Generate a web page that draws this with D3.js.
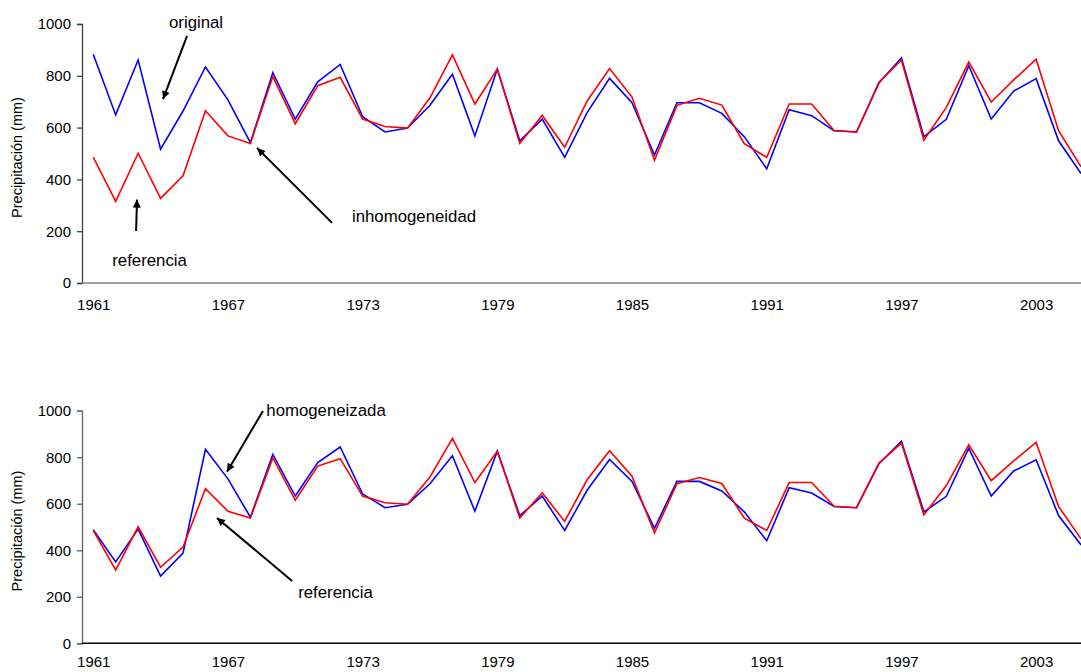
<!DOCTYPE html>
<html>
<head>
<meta charset="utf-8">
<script src="https://cdn.jsdelivr.net/npm/d3@7"></script>
<style>
  html, body { margin: 0; padding: 0; background: #ffffff; }
  svg { display: block; font-family: "Liberation Sans", Arial, sans-serif; }
</style>
</head>
<body>
<svg id="chart" width="1081" height="672"></svg>
<script>
// ---- data ----
const years = [1961,1962,1963,1964,1965,1966,1967,1968,1969,1970,1971,1972,1973,1974,1975,1976,1977,1978,1979,1980,1981,1982,1983,1984,1985,1986,1987,1988,1989,1990,1991,1992,1993,1994,1995,1996,1997,1998,1999,2000,2001,2002,2003,2004,2005];
const original = [883,649,861,517,664,834,707,542,812,633,777,844,642,583,598,686,806,568,826,549,633,485,658,790,696,494,696,696,655,565,441,669,646,588,583,772,869,565,632,839,633,741,789,549,423];
const referencia = [486,315,501,327,414,665,568,539,797,615,762,794,633,604,598,715,881,691,826,539,647,524,703,828,718,474,686,713,687,538,485,691,691,589,583,775,861,552,678,853,699,784,864,588,449];
const homogeneizada = [488,350,491,289,388,834,707,542,812,633,777,844,642,583,598,686,806,568,826,549,633,485,658,790,696,494,696,696,655,565,441,669,646,588,583,772,869,565,632,839,633,741,789,549,423];
const tickYears = [1961,1967,1973,1979,1985,1991,1997,2003];
const yTicks = [0,200,400,600,800,1000];
const yTitle = "Precipitación (mm)";

const panels = [
  { top: 24, bottom: 283, xAxisColor: "#808080", yAxisColor: "#404040", xPad: 16,
    series: [{values: original, color: "#0000ff"}, {values: referencia, color: "#ff0000"}],
    notes: [
      {text: "original", x: 1965.58, y: 985},
      {text: "referencia", x: 1963.51, y: 66},
      {text: "inhomogeneidad", x: 1975.29, y: 237}
    ],
    arrows: [
      {x1: 1965.18, y1: 954, x2: 1964.11, y2: 710},
      {x1: 1962.91, y1: 201, x2: 1962.95, y2: 322},
      {x1: 1971.64, y1: 232, x2: 1968.3, y2: 521}
    ] },
  { top: 410.7, bottom: 643.3, xAxisColor: "#000000", yAxisColor: "#606060", xPad: 13.5,
    series: [{values: homogeneizada, color: "#0000ff"}, {values: referencia, color: "#ff0000"}],
    notes: [
      {text: "homogeneizada", x: 1971.37, y: 978},
      {text: "referencia", x: 1971.79, y: 195}
    ],
    arrows: [
      {x1: 1968.56, y1: 999, x2: 1966.96, y2: 738},
      {x1: 1969.86, y1: 268, x2: 1966.51, y2: 539}
    ] }
];

const svg = d3.select("#chart");
svg.append("rect").attr("width", 1081).attr("height", 672).attr("fill", "#fff");

const defs = svg.append("defs");
defs.append("marker")
  .attr("id", "arrow")
  .attr("viewBox", "0 0 10 10")
  .attr("refX", 10).attr("refY", 5)
  .attr("markerUnits", "userSpaceOnUse")
  .attr("markerWidth", 10).attr("markerHeight", 8)
  .attr("orient", "auto")
  .append("path").attr("d", "M0,0 L10,5 L0,10 Z").attr("fill", "#000");

const axisLeftX = 82;
const x = d3.scaleLinear().domain([1960.5, 2005.5]).range([axisLeftX, axisLeftX + 45 * 22.45]);

panels.forEach(p => {
  const y = d3.scaleLinear().domain([0, 1000]).range([p.bottom, p.top]);
  const g = svg.append("g");

  // y axis
  const yAxis = g.append("g")
    .attr("transform", `translate(${axisLeftX},0)`)
    .call(d3.axisLeft(y).tickValues(yTicks).tickSize(5).tickPadding(6).tickFormat(d3.format("d")));
  yAxis.select(".domain").attr("stroke", p.yAxisColor).attr("stroke-width", 1.3);
  yAxis.selectAll(".tick line").attr("stroke", p.yAxisColor).attr("stroke-width", 1.3);
  yAxis.selectAll(".tick text").attr("font-size", "15px").attr("fill", "#000")
    .attr("font-family", "Liberation Sans, Arial, sans-serif");

  // x axis
  const xAxis = g.append("g")
    .attr("transform", `translate(0,${p.bottom})`)
    .call(d3.axisBottom(x).tickValues(tickYears).tickSize(0).tickPadding(p.xPad).tickFormat(d3.format("d")));
  xAxis.select(".domain").attr("stroke", p.xAxisColor).attr("stroke-width", 1.6)
    .attr("d", `M${axisLeftX},0H1081`);
  xAxis.selectAll(".tick text").attr("font-size", "15px").attr("fill", "#000")
    .attr("font-family", "Liberation Sans, Arial, sans-serif");

  // y title
  g.append("text")
    .attr("transform", `translate(22,${(p.top + p.bottom) / 2 + 4}) rotate(-90)`)
    .attr("text-anchor", "middle")
    .attr("font-size", "14.5px")
    .attr("fill", "#000")
    .text(yTitle);

  // lines
  const line = d3.line().x((d, i) => x(years[i])).y(d => y(d));
  p.series.forEach(s => {
    g.append("path")
      .datum(s.values)
      .attr("fill", "none")
      .attr("stroke", s.color)
      .attr("stroke-width", 1.6)
      .attr("stroke-linejoin", "miter")
      .attr("d", line);
  });

  // annotations
  p.notes.forEach(n => {
    g.append("text")
      .attr("x", x(n.x)).attr("y", y(n.y))
      .attr("text-anchor", "middle")
      .attr("font-size", "16.8px")
      .attr("fill", "#000")
      .text(n.text);
  });
  p.arrows.forEach(a => {
    g.append("line")
      .attr("x1", x(a.x1)).attr("y1", y(a.y1))
      .attr("x2", x(a.x2)).attr("y2", y(a.y2))
      .attr("stroke", "#000").attr("stroke-width", 2)
      .attr("marker-end", "url(#arrow)");
  });
});
</script>
</body>
</html>
